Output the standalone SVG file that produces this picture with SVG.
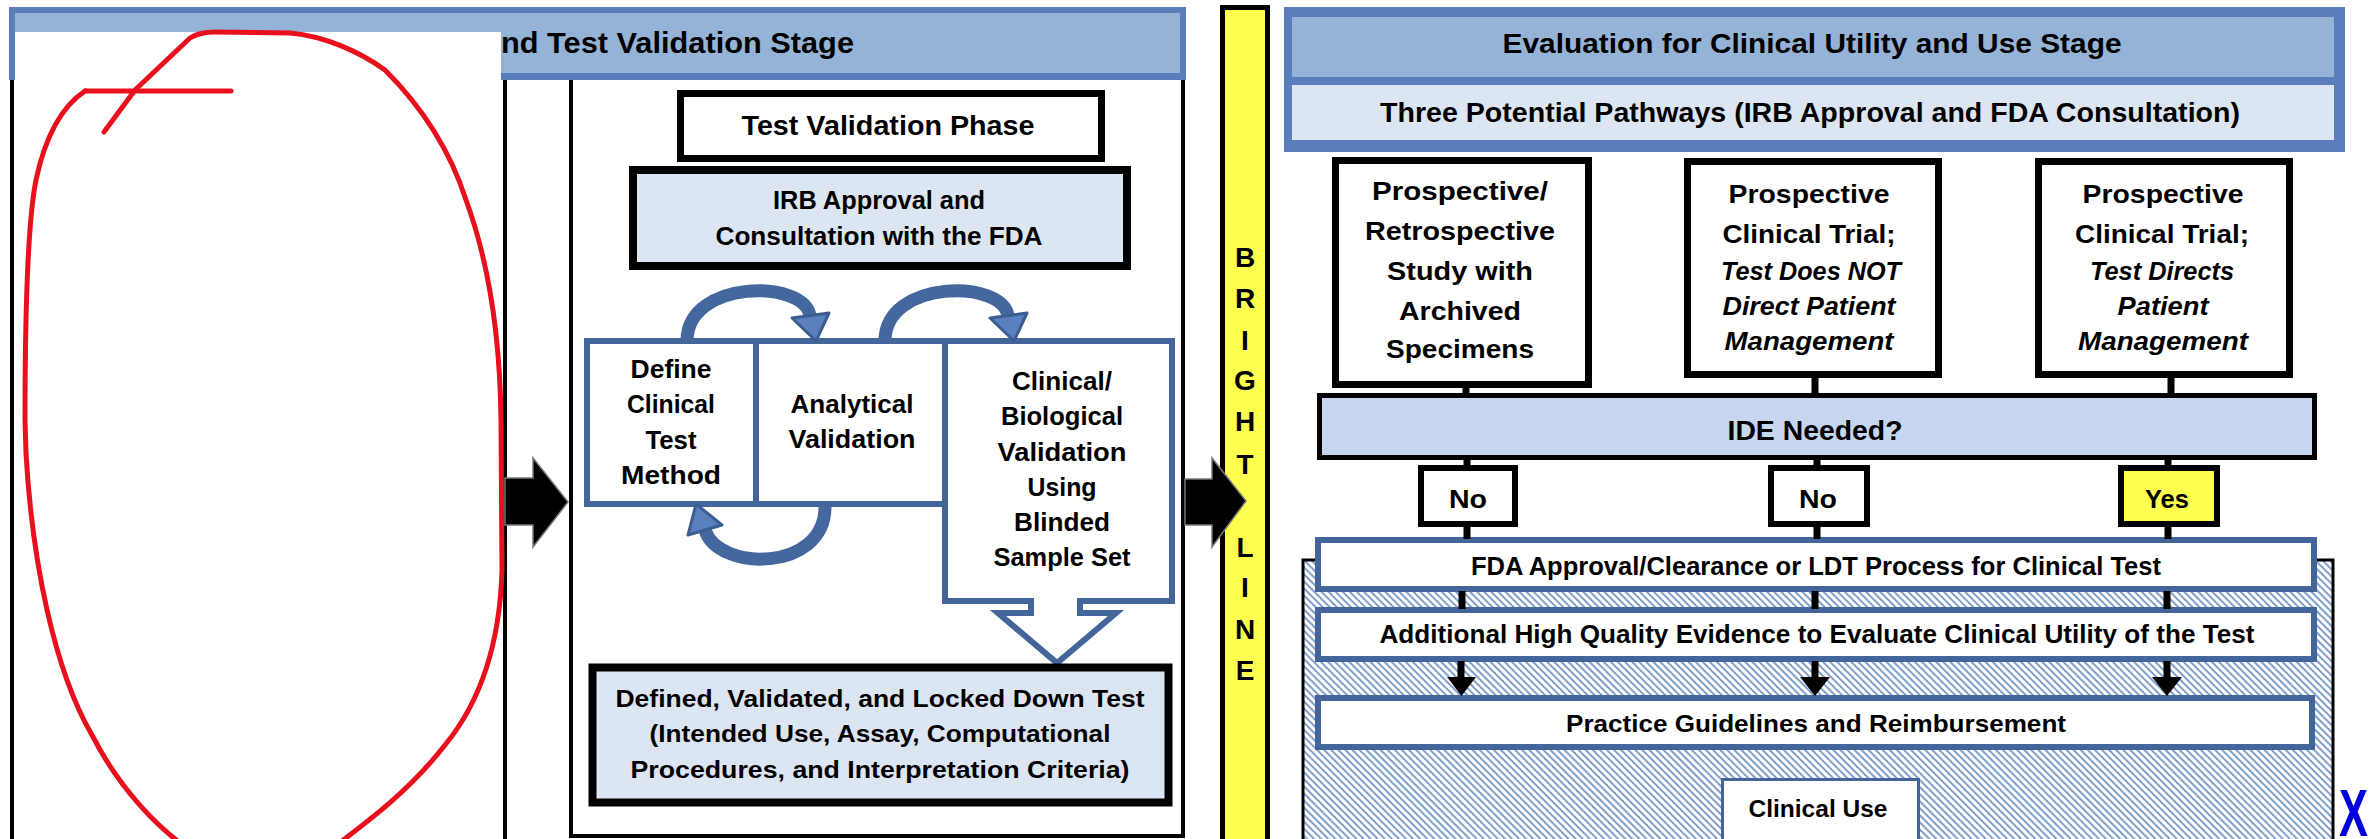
<svg xmlns="http://www.w3.org/2000/svg" width="2380" height="839" viewBox="0 0 2380 839">
<defs>
<style>
.t{font-family:"Liberation Sans",Arial,sans-serif;font-weight:bold;fill:#000;text-anchor:middle}
.i{font-style:italic}
.bl{font-family:"Liberation Sans",Arial,sans-serif;font-size:28px;font-weight:bold;fill:#000;text-anchor:middle}
.kbox{fill:#fff;stroke:#000;stroke-width:7}
.lbox{fill:#dce6f2;stroke:#000;stroke-width:8}
.bbox{fill:#fff;stroke:#44659a;stroke-width:6}
.arc{fill:none;stroke:#44679e;stroke-width:13}
.ah{fill:#5a80bf;stroke:#3c5d92;stroke-width:3;stroke-linejoin:round}
.conn{fill:none;stroke:#000;stroke-width:7}
.big{fill:#000;stroke:#777;stroke-width:1.5}
.red{fill:none;stroke:#e8101c;stroke-width:5;stroke-linecap:round;stroke-linejoin:round}
</style>
<pattern id="hatch" patternUnits="userSpaceOnUse" width="5" height="5" patternTransform="rotate(-45)">
<rect width="5" height="5" fill="#ffffff"/>
<rect width="2" height="5" fill="#819fce"/>
</pattern>
</defs>
<rect width="2380" height="839" fill="#fff"/>

<g id="left-panel">
<rect x="12" y="78" width="493" height="770" fill="#fff" stroke="#000" stroke-width="4"/>
</g>
<g id="middle-panel">
<rect x="571" y="78" width="612" height="758" fill="#fff" stroke="#000" stroke-width="4"/>
</g>

<g id="left-banner">
<rect x="9" y="7" width="1177" height="73" fill="#5a7ebb"/>
<rect x="15" y="13" width="1165" height="60" fill="#95b3d7"/>
<text class="t" x="501" y="53" font-size="29" style="text-anchor:start" textLength="353" lengthAdjust="spacingAndGlyphs">nd Test Validation Stage</text>
</g>

<g id="blank-overlay">
<rect x="15" y="32" width="486" height="807" fill="#fff"/>
</g>

<g id="red-loop">
<path class="red" d="M104,132 L135,90 L190,38 C198,33 206,32 215,32 L290,33 C325,36 360,52 385,70 C420,105 450,150 466,200 C488,260 500,330 501,420 L502,570 C500,640 482,700 445,745 C410,790 370,820 330,850"/>
<path class="red" d="M85,91 L231,91"/>
<path class="red" d="M85,91 C64,105 46,133 36,180 C28,220 25,300 25,420 L26,453 C32,560 54,670 92,735 C120,790 160,830 190,850"/>
</g>

<g id="test-validation-phase">
<rect class="kbox" x="680.5" y="93.5" width="421" height="65"/>
<text class="t" x="888" y="135" font-size="27" textLength="293" lengthAdjust="spacingAndGlyphs">Test Validation Phase</text>
</g>

<g id="irb-approval">
<rect class="lbox" x="633" y="170" width="494" height="96"/>
<text class="t" x="879" y="209" font-size="25" textLength="212" lengthAdjust="spacingAndGlyphs">IRB Approval and</text>
<text class="t" x="879" y="245" font-size="25" textLength="327" lengthAdjust="spacingAndGlyphs">Consultation with the FDA</text>
</g>

<g id="define-method">
<rect class="bbox" x="587" y="341" width="169" height="163"/>
<text class="t" x="671" y="378" font-size="25" textLength="81" lengthAdjust="spacingAndGlyphs">Define</text>
<text class="t" x="671" y="413" font-size="25" textLength="88" lengthAdjust="spacingAndGlyphs">Clinical</text>
<text class="t" x="671" y="449" font-size="25" textLength="51" lengthAdjust="spacingAndGlyphs">Test</text>
<text class="t" x="671" y="484" font-size="25" textLength="100" lengthAdjust="spacingAndGlyphs">Method</text>
</g>

<g id="analytical-validation">
<rect class="bbox" x="756" y="341" width="189" height="163"/>
<text class="t" x="852" y="413" font-size="25" textLength="123" lengthAdjust="spacingAndGlyphs">Analytical</text>
<text class="t" x="852" y="448" font-size="25" textLength="127" lengthAdjust="spacingAndGlyphs">Validation</text>
</g>

<g id="clinical-validation">
<path d="M945,341 H1172 V601 H1080 V613 H1116 L1057,663 L998,613 H1031 V601 H945 Z" fill="#fff" stroke="#44659a" stroke-width="6" stroke-linejoin="miter"/>
<text class="t" x="1062" y="390" font-size="25" textLength="100" lengthAdjust="spacingAndGlyphs">Clinical/</text>
<text class="t" x="1062" y="425" font-size="25" textLength="122" lengthAdjust="spacingAndGlyphs">Biological</text>
<text class="t" x="1062" y="461" font-size="25" textLength="129" lengthAdjust="spacingAndGlyphs">Validation</text>
<text class="t" x="1062" y="496" font-size="25" textLength="69" lengthAdjust="spacingAndGlyphs">Using</text>
<text class="t" x="1062" y="531" font-size="25" textLength="96" lengthAdjust="spacingAndGlyphs">Blinded</text>
<text class="t" x="1062" y="566" font-size="25" textLength="137" lengthAdjust="spacingAndGlyphs">Sample Set</text>
</g>

<g id="locked-down-test">
<rect class="lbox" x="592.5" y="667.5" width="576" height="135" stroke-width="9"/>
<text class="t" x="880" y="707" font-size="24" textLength="529" lengthAdjust="spacingAndGlyphs">Defined, Validated, and Locked Down Test</text>
<text class="t" x="880" y="742" font-size="24" textLength="461" lengthAdjust="spacingAndGlyphs">(Intended Use, Assay, Computational</text>
<text class="t" x="880" y="778" font-size="24" textLength="499" lengthAdjust="spacingAndGlyphs">Procedures, and Interpretation Criteria)</text>
</g>

<g id="bright-line">
<rect x="1222.5" y="7.5" width="45" height="840" fill="#ffff4f" stroke="#000" stroke-width="5"/>
<text class="bl" x="1245" y="267">B</text>
<text class="bl" x="1245" y="308">R</text>
<text class="bl" x="1245" y="350">I</text>
<text class="bl" x="1245" y="390">G</text>
<text class="bl" x="1245" y="431">H</text>
<text class="bl" x="1245" y="474">T</text>
<text class="bl" x="1245" y="557">L</text>
<text class="bl" x="1245" y="597">I</text>
<text class="bl" x="1245" y="639">N</text>
<text class="bl" x="1245" y="680">E</text>
</g>

<g id="right-banner">
<rect x="1284" y="7" width="1061" height="145" fill="#5a7ebb"/>
<rect x="1292" y="17" width="1042" height="60" fill="#95b3d7"/>
<rect x="1292" y="85" width="1042" height="55" fill="#dce6f2"/>
<text class="t" x="1812" y="53" font-size="28" textLength="619" lengthAdjust="spacingAndGlyphs">Evaluation for Clinical Utility and Use Stage</text>
<text class="t" x="1810" y="122" font-size="27" textLength="860" lengthAdjust="spacingAndGlyphs">Three Potential Pathways (IRB Approval and FDA Consultation)</text>
</g>

<g id="pathway-archived">
<rect class="kbox" x="1335.5" y="160.5" width="253" height="224"/>
<text class="t" x="1460" y="200" font-size="26" textLength="176" lengthAdjust="spacingAndGlyphs">Prospective/</text>
<text class="t" x="1460" y="240" font-size="26" textLength="190" lengthAdjust="spacingAndGlyphs">Retrospective</text>
<text class="t" x="1460" y="280" font-size="26" textLength="146" lengthAdjust="spacingAndGlyphs">Study with</text>
<text class="t" x="1460" y="320" font-size="26" textLength="122" lengthAdjust="spacingAndGlyphs">Archived</text>
<text class="t" x="1460" y="358" font-size="26" textLength="148" lengthAdjust="spacingAndGlyphs">Specimens</text>
</g>

<g id="pathway-not-direct">
<rect class="kbox" x="1687.5" y="161.5" width="251" height="213"/>
<text class="t" x="1809" y="203" font-size="26" textLength="161" lengthAdjust="spacingAndGlyphs">Prospective</text>
<text class="t" x="1809" y="243" font-size="26" textLength="173" lengthAdjust="spacingAndGlyphs">Clinical Trial;</text>
<text class="t i" x="1811" y="280" font-size="25" textLength="180" lengthAdjust="spacingAndGlyphs">Test Does NOT</text>
<text class="t i" x="1809" y="315" font-size="25" textLength="173" lengthAdjust="spacingAndGlyphs">Direct Patient</text>
<text class="t i" x="1809" y="350" font-size="25" textLength="169" lengthAdjust="spacingAndGlyphs">Management</text>
</g>

<g id="pathway-directs">
<rect class="kbox" x="2038.5" y="161.5" width="251" height="213"/>
<text class="t" x="2163" y="203" font-size="26" textLength="161" lengthAdjust="spacingAndGlyphs">Prospective</text>
<text class="t" x="2162" y="243" font-size="26" textLength="174" lengthAdjust="spacingAndGlyphs">Clinical Trial;</text>
<text class="t i" x="2162" y="280" font-size="25" textLength="144" lengthAdjust="spacingAndGlyphs">Test Directs</text>
<text class="t i" x="2163" y="315" font-size="25" textLength="91" lengthAdjust="spacingAndGlyphs">Patient</text>
<text class="t i" x="2163" y="350" font-size="25" textLength="170" lengthAdjust="spacingAndGlyphs">Management</text>
</g>

<g id="ide-needed">
<rect x="1319.5" y="395.5" width="995" height="62" fill="#c6d6ee" stroke="#000" stroke-width="5"/>
<text class="t" x="1815" y="440" font-size="27" textLength="175" lengthAdjust="spacingAndGlyphs">IDE Needed?</text>
</g>

<g id="no-1">
<rect x="1421" y="468" width="94" height="56" fill="#fff" stroke="#000" stroke-width="6"/>
<text class="t" x="1468" y="508" font-size="25" textLength="38" lengthAdjust="spacingAndGlyphs">No</text>
</g>
<g id="no-2">
<rect x="1771" y="468" width="96" height="56" fill="#fff" stroke="#000" stroke-width="6"/>
<text class="t" x="1818" y="508" font-size="25" textLength="38" lengthAdjust="spacingAndGlyphs">No</text>
</g>
<g id="yes">
<rect x="2121" y="468" width="96" height="56" fill="#ffff4f" stroke="#000" stroke-width="6"/>
<text class="t" x="2167" y="508" font-size="25" textLength="44" lengthAdjust="spacingAndGlyphs">Yes</text>
</g>

<g id="clinical-use-area">
<rect x="1303" y="560" width="1030" height="290" fill="url(#hatch)" stroke="#000" stroke-width="3"/>
</g>

<g id="fda-approval">
<rect class="bbox" x="1318" y="540" width="996" height="49"/>
<text class="t" x="1816" y="575" font-size="25" textLength="690" lengthAdjust="spacingAndGlyphs">FDA Approval/Clearance or LDT Process for Clinical Test</text>
</g>
<g id="additional-evidence">
<rect class="bbox" x="1318" y="610" width="996" height="49"/>
<text class="t" x="1817" y="643" font-size="25" textLength="875" lengthAdjust="spacingAndGlyphs">Additional High Quality Evidence to Evaluate Clinical Utility of the Test</text>
</g>
<g id="practice-guidelines">
<rect class="bbox" x="1318" y="698" width="994" height="49"/>
<text class="t" x="1816" y="732" font-size="24" textLength="500" lengthAdjust="spacingAndGlyphs">Practice Guidelines and Reimbursement</text>
</g>
<g id="clinical-use">
<rect x="1722.5" y="779.5" width="196" height="70" fill="#fff" stroke="#44659a" stroke-width="3"/>
<text class="t" x="1818" y="817" font-size="24" textLength="139" lengthAdjust="spacingAndGlyphs">Clinical Use</text>
</g>

<g id="x-mark">
<text class="t" x="2353.5" y="836" font-size="66" style="fill:#0000dd" textLength="29" lengthAdjust="spacingAndGlyphs">X</text>
</g>

<g id="connectors">
<polygon class="big" points="505,478 533,478 533,458 568,502 533,547 533,525 505,525"/>
<polygon class="big" points="1185,479 1212,479 1212,458 1246,501 1212,547 1212,525 1185,525"/>
<path class="arc" d="M687,341 C687,279 805,279 810,316"/>
<polygon class="ah" points="792,318 829,313 816,341"/>
<path class="arc" d="M885,341 C885,279 1003,279 1008,316"/>
<polygon class="ah" points="990,318 1027,313 1014,341"/>
<path class="arc" d="M825,507 C825,572 718,572 705,530"/>
<polygon class="ah" points="688,535 722,525 696,504"/>
<path class="conn" stroke-width="8" d="M1466,386V396 M1815,376V396 M2171,376V396"/>
<path class="conn" stroke-width="8" d="M1467,458V467 M1817,458V467 M2168,458V467"/>
<path class="conn" stroke-width="8" d="M1467,525V539 M1817,525V539 M2168,525V539"/>
<path class="conn" d="M1462,591V609 M1815,591V609 M2167,591V609"/>
<path class="conn" stroke-width="9" d="M1461,661V679 M1815,661V679 M2167,661V679"/>
<polygon points="1447,677 1476,677 1461.5,696" fill="#000"/>
<polygon points="1800,677 1830,677 1815,696" fill="#000"/>
<polygon points="2152,677 2182,677 2167,696" fill="#000"/>
</g>
</svg>
